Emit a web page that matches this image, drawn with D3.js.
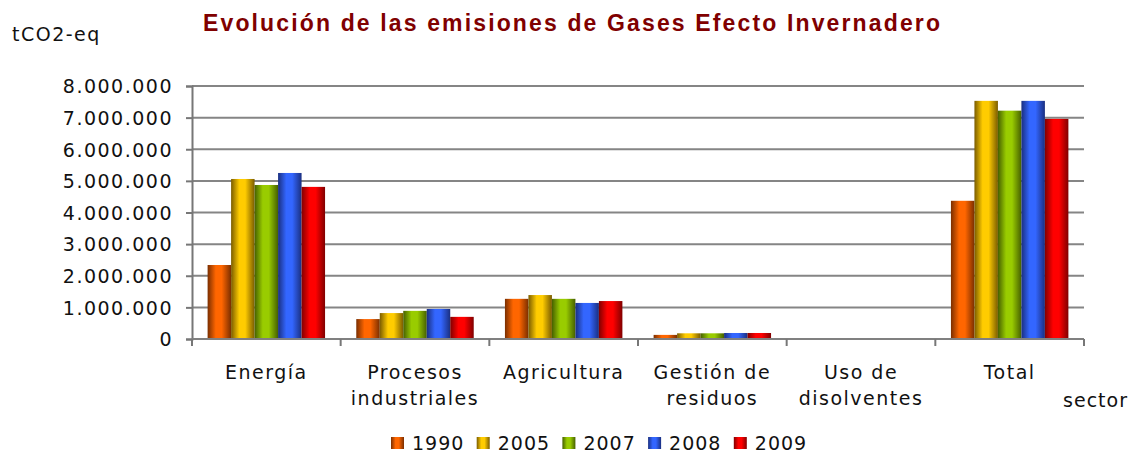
<!DOCTYPE html>
<html>
<head>
<meta charset="utf-8">
<script src="https://cdn.jsdelivr.net/npm/d3@7"></script>
<style>
  body { margin: 0; background: #fff; }
  text { font-family: "DejaVu Sans", Verdana, sans-serif; fill: #111; }
</style>
</head>
<body>
<script>
var width = 1130, height = 458;

var categories = [["Energía"], ["Procesos", "industriales"], ["Agricultura"], ["Gestión de", "residuos"], ["Uso de", "disolventes"], ["Total"]];
var years = ["1990", "2005", "2007", "2008", "2009"];
var v1990 = [2340000, 630000, 1270000, 130000, 0, 4370000];
var v2005 = [5060000, 820000, 1390000, 180000, 0, 7530000];
var v2007 = [4870000, 890000, 1270000, 180000, 0, 7220000];
var v2008 = [5250000, 950000, 1140000, 190000, 0, 7530000];
var v2009 = [4810000, 700000, 1200000, 190000, 0, 6960000];
var yTicks = [0, 1000000, 2000000, 3000000, 4000000, 5000000, 6000000, 7000000, 8000000];
var colours = ["#ff6600", "#ffcc00", "#99cc00", "#3366ff", "#ff0000"];
var edges = ["#7a2e00", "#7a5c00", "#466000", "#1a2f80", "#800000"];

var series = [v1990, v2005, v2007, v2008, v2009];

var svg = d3.select("body").append("svg").attr("width", width).attr("height", height);

var defs = svg.append("defs");
colours.forEach(function(c, i) {
  var gr = defs.append("linearGradient").attr("id", "g" + i)
    .attr("x1", "0%").attr("x2", "100%").attr("y1", "0%").attr("y2", "0%");
  gr.append("stop").attr("offset", "0%").attr("stop-color", edges[i]);
  gr.append("stop").attr("offset", "35%").attr("stop-color", c);
  gr.append("stop").attr("offset", "60%").attr("stop-color", c);
  gr.append("stop").attr("offset", "100%").attr("stop-color", edges[i]);
});

var x = d3.scaleBand().domain(d3.range(categories.length)).range([192, 1084]).paddingInner(0.21).paddingOuter(0.105);
var xs = d3.scaleBand().domain(d3.range(years.length)).range([0, x.bandwidth()]);
var y = d3.scaleLinear().domain([0, 8000000]).range([339, 86]);

var fmt = function(d) { return d3.format(",")(d).replace(/,/g, "."); };

// gridlines
svg.append("g").selectAll("line").data(yTicks.slice(1)).enter().append("line")
  .attr("x1", 192).attr("x2", 1084)
  .attr("y1", function(d) { return y(d); }).attr("y2", function(d) { return y(d); })
  .attr("stroke", "#858585").attr("stroke-width", 2);

// bars
series.forEach(function(s, i) {
  svg.append("g").selectAll("rect").data(s).enter().append("rect")
    .attr("x", function(d, j) { return x(j) + xs(i); })
    .attr("y", function(d) { return y(d); })
    .attr("width", xs.bandwidth())
    .attr("height", function(d) { return 339 - y(d); })
    .attr("fill", "url(#g" + i + ")");
});

// y axis
var yAxis = svg.append("g").attr("transform", "translate(192,0)")
  .call(d3.axisLeft(y).tickValues(yTicks).tickFormat(fmt).tickSize(6).tickPadding(13));
yAxis.select(".domain").attr("stroke", "#777").attr("stroke-width", 2);
yAxis.selectAll(".tick line").attr("stroke", "#777").attr("stroke-width", 2);
yAxis.selectAll(".tick text").style("font-size", "19px").style("letter-spacing", "1.5px")
  .attr("fill", "#111").attr("dy", "0.36em");

// x axis
var xb = svg.append("g");
xb.append("line").attr("x1", 192).attr("x2", 1084).attr("y1", 339).attr("y2", 339)
  .attr("stroke", "#808080").attr("stroke-width", 2);
xb.selectAll(".tk").data(d3.range(categories.length + 1)).enter().append("line")
  .attr("x1", function(d) { return 192 + d * x.step(); })
  .attr("x2", function(d) { return 192 + d * x.step(); })
  .attr("y1", 339).attr("y2", 346).attr("stroke", "#777").attr("stroke-width", 2);

var lbl = svg.append("g").selectAll("text").data(categories).enter().append("text")
  .attr("text-anchor", "middle").style("font-size", "19px").style("letter-spacing", "1.5px")
  .attr("x", function(d, i) { return x(i) + x.bandwidth() / 2; })
  .attr("y", 379);
lbl.selectAll("tspan").data(function(d) { return d; }).enter().append("tspan")
  .attr("x", function() { return d3.select(this.parentNode).attr("x"); })
  .attr("dy", function(d, i) { return i === 0 ? 0 : 26; })
  .text(function(d) { return d; });

svg.append("text").attr("x", 1128).attr("y", 407).attr("text-anchor", "end")
  .style("font-size", "19px").style("letter-spacing", "1px").text("sector");

svg.append("text").attr("x", 12).attr("y", 41)
  .style("font-size", "19px").style("letter-spacing", "1.5px").text("tCO2-eq");

svg.append("text").attr("x", 203).attr("y", 31)
  .attr("textLength", 737).attr("lengthAdjust", "spacing")
  .style("font-family", "'Liberation Sans', Arial, sans-serif")
  .style("font-size", "23px").style("font-weight", "bold")
  .style("fill", "#800000").text("Evolución de las emisiones de Gases Efecto Invernadero");

// legend
var leg = svg.append("g").selectAll("g").data(years).enter().append("g")
  .attr("transform", function(d, i) { return "translate(" + (391 + i * 85.7) + ",443)"; });
leg.append("rect").attr("width", 13).attr("height", 12).attr("y", -6)
  .attr("fill", function(d, i) { return "url(#g" + i + ")"; });
leg.append("text").attr("x", 21).attr("y", 7).style("font-size", "19px").style("letter-spacing", "1px")
  .text(function(d) { return d; });
</script>
</body>
</html>
